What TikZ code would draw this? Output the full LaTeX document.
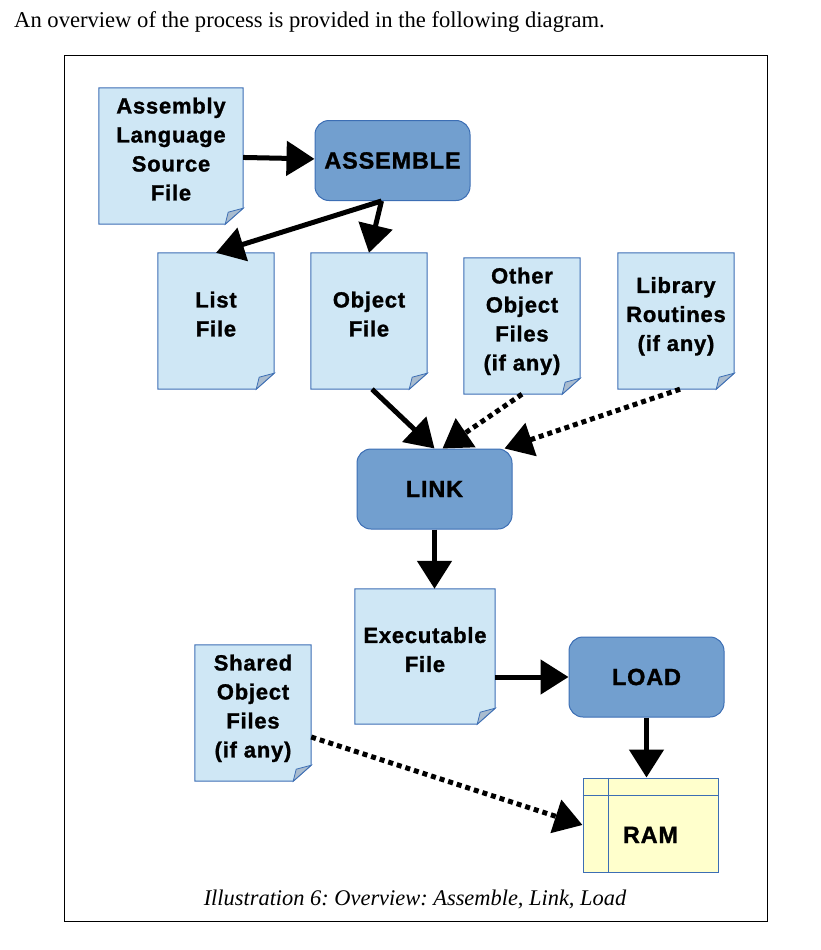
\documentclass[tikz,border=0pt]{standalone}
\usepackage{fontspec}
\setmainfont{Liberation Serif}
\setsansfont{Liberation Sans}[LetterSpace=3.5,BoldFeatures={FakeBold=1.2}]
\usetikzlibrary{arrows.meta,backgrounds}

\definecolor{docfill}{RGB}{207,231,245}
\definecolor{docline}{RGB}{60,110,180}
\definecolor{boxfill}{RGB}{114,159,207}
\definecolor{foldfill}{RGB}{169,188,207}
\definecolor{ramfill}{RGB}{255,255,204}

\begin{document}
\frenchspacing
\begin{tikzpicture}[x=1pt,y=-1pt,
    boldtext/.style={font=\sffamily\bfseries\fontsize{22}{29}\selectfont, align=center},
    captext/.style={font=\sffamily\bfseries\fontsize{23.5}{29}\selectfont},
    doc/.style={boldtext, rectangle, inner xsep=1pt, minimum width=116, minimum height=136, text depth=14pt},
    stage/.style={captext, rectangle, rounded corners=14, draw=docline, line width=1pt, fill=boxfill, minimum width=155, minimum height=80},
    flow/.style={-{Triangle[length=28pt,width=34pt]}, line width=5pt},
    maybe/.style={flow, dash pattern=on 5pt off 4pt}]
    \useasboundingbox (0,0) rectangle (821,950);

    % text round the figure
    \node[anchor=base west, inner sep=0pt, font=\fontsize{22.6}{26}\selectfont] (intro) at (14,28) {An overview of the process is provided in the following diagram.};
    \draw[line width=0.8pt] (64,55) rectangle (767,921);
    \node[anchor=base, font=\itshape\fontsize{22.4}{26}\selectfont] (caption) at (415,905) {Illustration 6: Overview: Assemble, Link, Load};

    % files and steps
    \node[doc, minimum width=144] (src) at (171,156) {Assembly\\Language\\Source\\File};
    \node[stage] (assemble) at (392.5,160.5) {ASSEMBLE};
    \node[doc] (list) at (216,321) {List\\File};
    \node[doc] (obj) at (369,321) {Object\\File};
    \node[doc] (other) at (522,326) {Other\\Object\\Files\\(if any)};
    \node[doc] (lib) at (676,321) {Library\\Routines\\(if any)};
    \node[stage] (link) at (434.5,489) {LINK};
    \node[doc, minimum width=140, minimum height=135] (exe) at (425,656.5) {Executable\\File};
    \node[stage] (load) at (646.5,677) {LOAD};
    \node[doc] (shared) at (253,713) {Shared\\Object\\Files\\(if any)};
    \node[captext, rectangle, draw=docline, line width=1pt, fill=ramfill, minimum width=135, minimum height=94, text height=36pt] (ram) at (650.5,825) {RAM};
    \draw[docline, line width=1pt] ([xshift=26pt]ram.north west) -- ([xshift=26pt]ram.south west);
    \draw[docline, line width=1pt] ([yshift=-18pt]ram.north west) -- ([yshift=-18pt]ram.north east);

    % paper with a folded corner
    \begin{scope}[on background layer]
        \foreach \n in {src,list,obj,other,lib,exe,shared}{
            \filldraw[fill=docfill, draw=docline, line width=1pt] (\n.north west) -- (\n.north east) -- ([yshift=16pt]\n.south east) -- ([xshift=-18pt]\n.south east) -- (\n.south west) -- cycle;
            \filldraw[fill=foldfill, draw=docline, line width=0.8pt] ([yshift=16pt]\n.south east) -- ([xshift=-15pt,yshift=12pt]\n.south east) -- ([xshift=-18pt]\n.south east) -- cycle;
        }
    \end{scope}

    \draw[flow] (src) -- (assemble);
    \draw[flow] ([xshift=-11pt]assemble.south) -- (list.north);
    \draw[flow] ([xshift=-11pt]assemble.south) -- (obj.north);
    \draw[flow] ([xshift=3pt]obj.south) -- (link.north);
    \draw[maybe] (other.south) -- ([xshift=8pt]link.north);
    \draw[maybe] ([xshift=4pt]lib.south) -- ([xshift=-8pt]link.north east);
    \draw[flow] (link.south) -- (link.south |- exe.north);
    \draw[flow] (exe.east |- load.west) -- (load.west);
    \draw[flow] (load.south) -- (load.south |- ram.north);
    \draw[maybe] ([yshift=-24pt]shared.east) -- (ram.west);
\end{tikzpicture}
\end{document}
